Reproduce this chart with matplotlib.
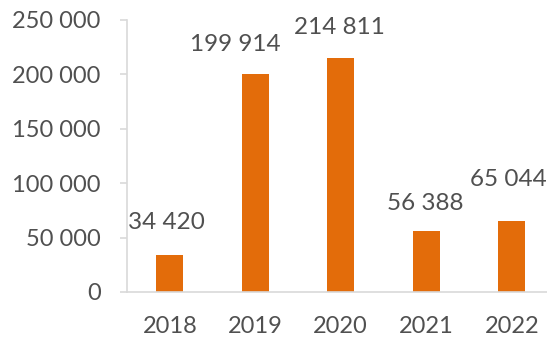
import matplotlib.pyplot as plt
from matplotlib.ticker import FuncFormatter

years = ["2018", "2019", "2020", "2021", "2022"]
values = [34420, 199914, 214811, 56388, 65044]

# label placement tweaks (pixels), the source chart nudges a few
label_dx = [-3, -20, -1, -1, -3]
label_dy = [22, 19, 20, 17, 31]

bar_color = "#E36C0A"
text_color = "#505050"
axis_color = "#D9D9D9"


def fmt(v):
    return f"{int(v):,}".replace(",", " ")


plt.rcParams["font.family"] = ["Lato", "DejaVu Sans"]

fig = plt.figure(figsize=(5.47, 3.37), dpi=100)
ax = fig.add_axes([127 / 547, 45 / 337, 427.5 / 547, 272 / 337])

x = list(range(len(years)))
bars = ax.bar(x, values, width=0.32, color=bar_color, zorder=2)

for i, b in enumerate(bars):
    ax.annotate(fmt(values[i]),
                xy=(b.get_x() + b.get_width() / 2, b.get_height()),
                xytext=(label_dx[i] * 0.72, label_dy[i] * 0.72),
                textcoords="offset points", ha="center", va="bottom",
                fontsize=17.5, color=text_color)

ax.set_xlim(-0.5, len(years) - 0.5)
ax.set_ylim(0, 250000)
ax.set_yticks(range(0, 250001, 50000))
ax.yaxis.set_major_formatter(FuncFormatter(lambda v, p: fmt(v)))
ax.set_xticks(x)
ax.set_xticklabels(years)

for side in ["top", "right"]:
    ax.spines[side].set_visible(False)
ax.spines["left"].set_color(axis_color)
ax.spines["bottom"].set_color(axis_color)
ax.spines["left"].set_linewidth(1.2)
ax.spines["bottom"].set_linewidth(1.2)

ax.tick_params(axis="y", length=5, width=1.2, color=axis_color, pad=14,
               labelsize=17, labelcolor=text_color)
ax.tick_params(axis="x", length=0, pad=17, labelsize=17, labelcolor=text_color)

fig.savefig("out.png", dpi=100)
